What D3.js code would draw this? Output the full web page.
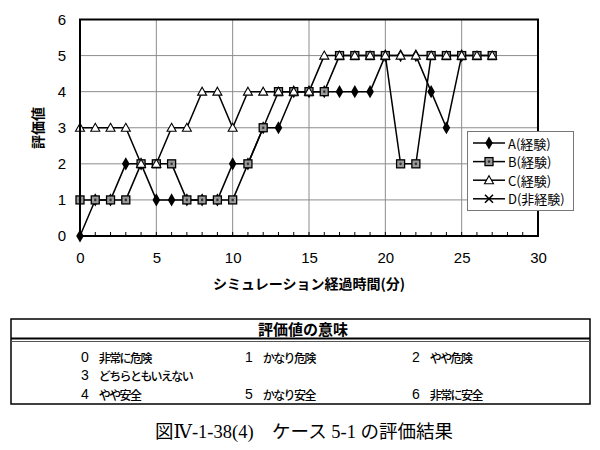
<!DOCTYPE html>
<html><head><meta charset="utf-8">
<script src="https://cdn.jsdelivr.net/npm/d3@7"></script>
<style>body{margin:0;background:#fff}svg{display:block}</style>
</head><body>
<svg id="c" width="600" height="450"></svg>
<script>
// ---- data ----
const seriesNames = ["A(経験)", "B(経験)", "C(経験)", "D(非経験)"];
const timeA = [0,1,2,3,4,5,6,7,8,9,10,11,12,13,14,15,16,17,18,19,20,21,22,23,24,25];
const valuesA = [0,1,1,2,2,1,1,1,1,1,2,2,3,3,4,4,4,4,4,4,5,5,5,4,3,5];
const timeB = [0,1,2,3,4,5,6,7,8,9,10,11,12,13,14,15,16,17,18,19,20,21,22,23,24,25,26,27];
const valuesB = [1,1,1,1,2,2,2,1,1,1,1,2,3,4,4,4,4,5,5,5,5,2,2,5,5,5,5,5];
const timeC = [0,1,2,3,4,5,6,7,8,9,10,11,12,13,14,15,16,17,18,19,20,21,22,23,24,25,26,27];
const valuesC = [3,3,3,3,2,2,3,3,4,4,3,4,4,4,4,4,5,5,5,5,5,5,5,5,5,5,5,5];
const timeD = [];
const valuesD = [];
const xTicks = [0,5,10,15,20,25,30];
const yTicks = [0,1,2,3,4,5,6];
const xTitle = "シミュレーション経過時間(分)";
const yTitle = "評価値";
const tableTitle = "評価値の意味";
const meaningValues = ["0","1","2","3","4","5","6"];
const meaningLabels = ["非常に危険","かなり危険","やや危険","どちらともいえない","やや安全","かなり安全","非常に安全"];
const caption = "図Ⅳ-1-38(4)　ケース 5-1 の評価結果";

// ---- drawing ----
const svg = d3.select("#c");
svg.append("rect").attr("width",600).attr("height",450).attr("fill","#fff");
const L=80, R=538, T=19.5, B=236;
const x = d3.scaleLinear().domain([0,30]).range([L,R]);
const y = d3.scaleLinear().domain([0,6]).range([B,T]);
const jp = "'Noto Sans CJK JP','Noto Sans',sans-serif";
const lat = "'Liberation Sans',Arial,sans-serif";

// grid
const g = svg.append("g");
g.selectAll(".hg").data(yTicks.slice(1,-1)).join("line")
  .attr("x1",L).attr("x2",R).attr("y1",d=>y(d)).attr("y2",d=>y(d))
  .attr("stroke","#8c8c8c").attr("stroke-width",1);
g.selectAll(".vg").data(xTicks.slice(1,-1)).join("line")
  .attr("y1",T).attr("y2",B).attr("x1",d=>x(d)).attr("x2",d=>x(d))
  .attr("stroke","#8c8c8c").attr("stroke-width",1);
// minor ticks on bottom axis
g.selectAll(".mt").data(d3.range(1,30)).join("line")
  .attr("x1",d=>x(d)).attr("x2",d=>x(d)).attr("y1",B).attr("y2",B-4)
  .attr("stroke","#000").attr("stroke-width",1);

// axes labels
const yAxis = d3.axisLeft(y).tickValues(yTicks).tickFormat(d3.format("d")).tickSize(0).tickPadding(14);
svg.append("g").attr("transform",`translate(${L},0)`).call(yAxis)
  .call(a=>a.select(".domain").remove())
  .selectAll("text").attr("font-family",lat).attr("font-size",15).attr("fill","#000");
const xAxis = d3.axisBottom(x).tickValues(xTicks).tickFormat(d3.format("d")).tickSize(0).tickPadding(16);
svg.append("g").attr("transform",`translate(0,${B})`).call(xAxis)
  .call(a=>a.select(".domain").remove())
  .selectAll("text").attr("font-family",lat).attr("font-size",15).attr("fill","#000");

svg.append("text").attr("x",309).attr("y",289).attr("text-anchor","middle")
  .attr("font-family",jp).attr("font-size",14).attr("font-weight",700).text(xTitle);
svg.append("text").attr("transform","translate(37,128) rotate(-90)")
  .attr("text-anchor","middle").attr("dominant-baseline","central")
  .attr("font-family",jp).attr("font-size",14).attr("font-weight",700).text(yTitle);

// markers
function marker(sel, type){
  if(type===0){ sel.append("path").attr("d",d3.symbol(d3.symbolDiamond,50)()).attr("fill","#000"); }
  else if(type===1){ sel.append("rect").attr("x",-4).attr("y",-4).attr("width",8).attr("height",8)
      .attr("fill","#9a9a9a").attr("stroke","#000").attr("stroke-width",1.3);
      sel.append("circle").attr("r",1.3).attr("fill","#333"); }
  else if(type===2){ sel.append("path").attr("d","M0,-4.5L4.5,3.5L-4.5,3.5Z").attr("fill","#fff").attr("stroke","#000").attr("stroke-width",1.1); }
  else { sel.append("path").attr("d","M-4,-4L4,4M-4,4L4,-4").attr("stroke","#000").attr("stroke-width",1.6); }
}
const series = [[timeA,valuesA],[timeB,valuesB],[timeC,valuesC],[timeD,valuesD]];
const line = d3.line().x(d=>x(d[0])).y(d=>y(d[1]));
series.forEach(([t,v],i)=>{
  const pts = t.map((tt,j)=>[tt,v[j]]);
  if(!pts.length) return;
  svg.append("path").attr("d",line(pts)).attr("fill","none").attr("stroke","#000").attr("stroke-width",1.5);
});
series.forEach(([t,v],i)=>{
  const pts = t.map((tt,j)=>[tt,v[j]]);
  svg.append("g").selectAll("g").data(pts).join("g")
    .attr("transform",d=>`translate(${x(d[0])},${y(d[1])})`)
    .each(function(){ marker(d3.select(this), i); });
});

// frame
svg.append("rect").attr("x",L).attr("y",T).attr("width",R-L).attr("height",B-T)
  .attr("fill","none").attr("stroke","#000").attr("stroke-width",2);

// legend
const lg = svg.append("g");
lg.append("rect").attr("x",467.5).attr("y",131.5).attr("width",106).attr("height",79)
  .attr("fill","#fff").attr("stroke","#777").attr("stroke-width",1);
seriesNames.forEach((n,i)=>{
  const yy = 143 + i*18.6;
  lg.append("line").attr("x1",473).attr("x2",505).attr("y1",yy).attr("y2",yy).attr("stroke","#000").attr("stroke-width",1.5);
  const m = lg.append("g").attr("transform",`translate(489,${yy})`);
  marker(m,i);
  lg.append("text").attr("x",508).attr("y",yy).attr("dominant-baseline","central")
    .attr("font-family",jp).attr("font-size",13).text(n);
});

// meaning table
const tb = svg.append("g");
tb.append("rect").attr("x",11).attr("y",319).attr("width",579).attr("height",85)
  .attr("fill","none").attr("stroke","#000").attr("stroke-width",1.5);
tb.append("line").attr("x1",11).attr("x2",590).attr("y1",338.5).attr("y2",338.5).attr("stroke","#000").attr("stroke-width",2);
tb.append("line").attr("x1",11).attr("x2",590).attr("y1",341.5).attr("y2",341.5).attr("stroke","#555").attr("stroke-width",1);
tb.append("text").attr("x",303).attr("y",328.5).attr("text-anchor","middle").attr("dominant-baseline","central")
  .attr("font-family",jp).attr("font-size",15).attr("font-weight",700).text(tableTitle);
const cellPos = [[81,357],[245,357],[412,357],[81,375],[81,394],[245,394],[412,394]];
meaningValues.forEach((v,i)=>{
  const t = tb.append("text").attr("x",cellPos[i][0]).attr("y",cellPos[i][1]).attr("dominant-baseline","central");
  t.append("tspan").attr("font-family",lat).attr("font-size",14).text(v);
  t.append("tspan").attr("dx",10).attr("font-family",jp).attr("font-size",12)
    .attr("letter-spacing",-1.6).attr("font-weight",500).text(meaningLabels[i]);
});

// caption
svg.append("text").attr("x",304).attr("y",432).attr("text-anchor","middle").attr("dominant-baseline","central")
  .attr("font-family","'Liberation Serif','DejaVu Serif','Noto Sans CJK JP',serif").attr("font-size",18.5).text(caption);
</script>
</body></html>
